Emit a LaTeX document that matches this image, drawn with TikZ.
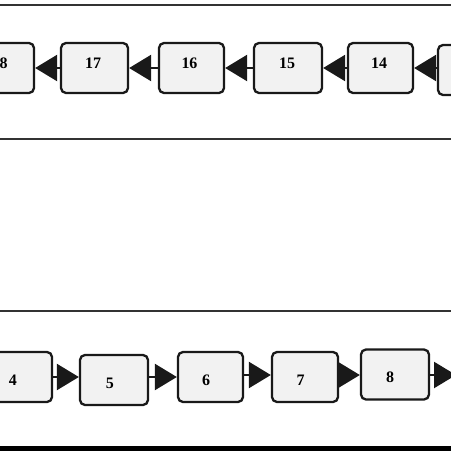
\documentclass[tikz,border=0pt]{standalone}
\usepackage{fontspec}
\setmainfont{Liberation Serif}
\usetikzlibrary{arrows.meta}
\begin{document}
\begin{tikzpicture}[x=1pt,y=-1pt,
  box/.style={draw=black!90, line width=2.3pt, rounded corners=5pt, fill=black!5,
    minimum height=50pt, inner sep=0pt, font=\fontsize{16}{18}\selectfont\bfseries},
  toprow/.style={text depth=10pt},
  botrow/.style={text height=16.5pt},
  conn/.style={draw=black!90, line width=2.4pt, -{Triangle[length=22pt,width=26pt]}},
  rule/.style={draw=black!80, line width=2.4pt}]
\useasboundingbox (0,0) rectangle (451,451);
% horizontal rules
\draw[rule] (0,5) -- (451,5);
\draw[rule] (0,139) -- (451,139);
\draw[rule] (0,311) -- (451,311);
\draw[draw=black, line width=5pt] (0,448.5) -- (451,448.5);
% top row
\node[box,toprow,minimum width=66pt] (b18) at (1,68) {18\hspace*{3pt}};
\node[box,toprow,minimum width=67pt] (b17) at (94.5,68) {17\hspace*{3pt}};
\node[box,toprow,minimum width=65pt] (b16) at (191.5,68) {16\hspace*{4pt}};
\node[box,toprow,minimum width=68pt] (b15) at (288,68) {15\hspace*{2pt}};
\node[box,toprow,minimum width=65pt] (b14) at (380.5,68) {14\hspace*{3pt}};
\node[box,toprow,minimum width=67pt] (b13) at (471.5,70) {};
\draw[conn] (b17.west) -- (b17.west -| b18.east);
\draw[conn] (b16.west) -- (b16.west -| b17.east);
\draw[conn] (b15.west) -- (b15.west -| b16.east);
\draw[conn] (b14.west) -- (b14.west -| b15.east);
\draw[conn] (b13.west |- b14.east) -- (b14.east);
% bottom row
\node[box,botrow,minimum width=70pt] (b4) at (17,377) {4\hspace*{8pt}};
\node[box,botrow,minimum width=68pt] (b5) at (114,380) {5\hspace*{8pt}};
\node[box,botrow,minimum width=65pt] (b6) at (210.5,377) {6\hspace*{9pt}};
\node[box,botrow,minimum width=66pt] (b7) at (305,377) {7\hspace*{9pt}};
\node[box,botrow,minimum width=68pt] (b8) at (395,374.5) {8\hspace*{10pt}};
\coordinate (c9) at (456,375);
\draw[conn] (b4.east) -- (b4.east -| b5.west);
\draw[conn] (b5.east |- b4.east) -- (b4.east -| b6.west);
\draw[conn] (b6.east |- 0,375) -- (b7.west |- 0,375);
\draw[conn] (b7.east |- 0,375) -- (b8.west |- 0,375);
\draw[conn] (b8.east |- c9) -- (c9);
\end{tikzpicture}
\end{document}
